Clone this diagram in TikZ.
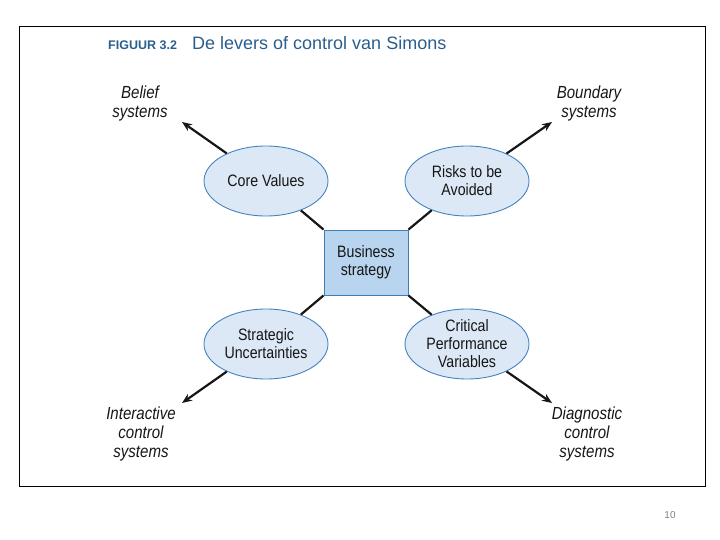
\documentclass[tikz,border=0pt]{standalone}
\usepackage{fontspec}
\setmainfont{Liberation Sans}
\newfontfamily\narrowsf[FakeStretch=0.86]{Liberation Sans}
\usepackage{xcolor}
\usepackage{tikz}
\usetikzlibrary{positioning,arrows.meta,shapes.geometric}
\definecolor{ink}{HTML}{161616}
\definecolor{titleblue}{HTML}{2A5E8E}
\definecolor{ovalfill}{HTML}{DCE8F5}
\definecolor{ovalline}{HTML}{4583BE}
\definecolor{boxfill}{HTML}{B9D4EE}
\definecolor{boxline}{HTML}{3D7DB8}

\begin{document}
\begin{tikzpicture}[x=1pt,y=-1pt,font=\narrowsf\fontsize{16.5}{18}\selectfont,
     lever/.style={ellipse,draw=ovalline,fill=ovalfill,line width=.9pt,inner sep=0pt,
       minimum width=124pt,minimum height=70pt,align=center,text=ink},
     core/.style={draw=boxline,fill=boxfill,line width=.9pt,inner sep=0pt,
       minimum width=84pt,minimum height=65pt,align=center,text=ink},
     sys/.style={align=center,text=ink,font=\narrowsf\itshape\fontsize{17.5}{19}\selectfont},
     link/.style={draw=ink,line width=2.2pt},
     outlink/.style={link,-{Stealth[length=10pt,width=8pt]}}]
    \useasboundingbox (0,0) rectangle (720,540);
    \draw[line width=1pt] (19,27) rectangle (705,486);
    \node[anchor=base west,text=titleblue,inner sep=0pt,font=\bfseries\fontsize{12.5}{14}\selectfont](fig) at (108,50){FIGUUR 3.2};
    \node[anchor=base west,text=titleblue,font=\fontsize{18}{20}\selectfont,inner sep=0pt](ttl) at (192,50){De levers of control van Simons};
    \node[core](bs) at (366,262.5){Business\\strategy};
    \node[lever](cv) at (266,181){Core Values}; \node[lever](rb) at (467,181){Risks to be\\Avoided};
    \node[lever](su) at (266,344){Strategic\\Uncertainties}; \node[lever](cp) at (467,344){Critical\\Performance\\Variables};
    \node[sys](bel) at (140,103){Belief\\systems}; \node[sys](bnd) at (589,103){Boundary\\systems};
    \node[sys](int) at (141,434){Interactive\\control\\systems}; \node[sys](dia) at (587,434){Diagnostic\\control\\systems};
    \coordinate (tbel) at (182,122); \coordinate (tbnd) at (552,122);
    \coordinate (tint) at (182,403); \coordinate (tdia) at (552,403);
    \draw[link](bs.north west)--(cv); \draw[link](bs.north east)--(rb);
    \draw[link](bs.south west)--(su); \draw[link](bs.south east)--(cp);
    \draw[outlink](cv)--(tbel); \draw[outlink](rb)--(tbnd);
    \draw[outlink](su)--(tint); \draw[outlink](cp)--(tdia);
    \node[text=black!50,font=\fontsize{10}{11}\selectfont](pg) at (670,515){10};
  \end{tikzpicture}
\end{document}
